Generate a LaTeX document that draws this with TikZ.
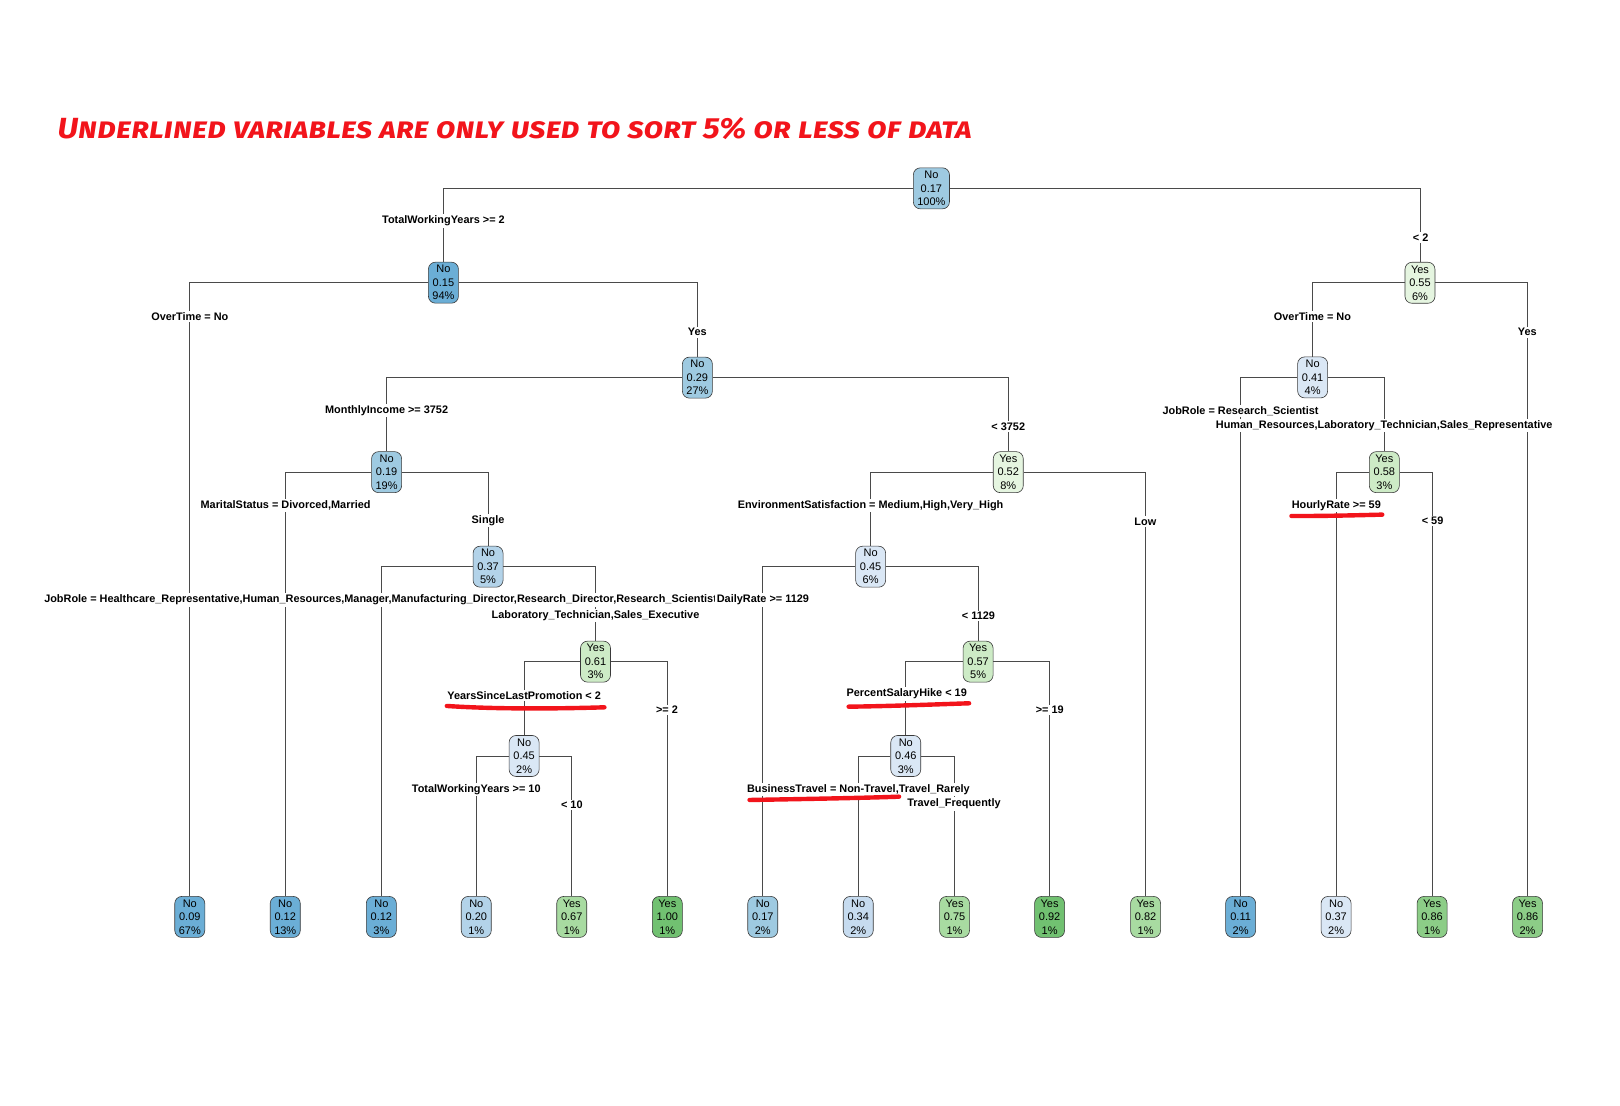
\documentclass[tikz,border=0pt]{standalone}
\usepackage{fontspec}
\setmainfont{Liberation Sans}
\newfontfamily\markerfont{Fira Sans}[Letters=SmallCaps]
\usepackage{tikz}
\usetikzlibrary{calc}
\usepackage{xcolor}

\definecolor{boxline}{HTML}{3A3A3A}
\definecolor{edgegray}{HTML}{4A4A4A}
\definecolor{markred}{HTML}{F2141B}
\definecolor{bluea}{HTML}{6BAED6}
\definecolor{blueb}{HTML}{83BBDD}
\definecolor{bluec}{HTML}{9ECAE1}
\definecolor{blued}{HTML}{B3D3E9}
\definecolor{bluee}{HTML}{C6DBEF}
\definecolor{bluef}{HTML}{DAE7F5}
\definecolor{greena}{HTML}{E5F5E0}
\definecolor{greenb}{HTML}{CDEBC6}
\definecolor{greenc}{HTML}{A8DBA1}
\definecolor{greend}{HTML}{8CCD87}
\definecolor{greene}{HTML}{71C171}

\tikzset{
  split/.style={draw=boxline, line width=0.6pt, rounded corners=7pt, align=center,
    font=\fontsize{11}{13.5}\selectfont, inner xsep=4pt, inner ysep=2pt,
    minimum height=41pt, minimum width=30pt},
  edge/.style={draw=edgegray, line width=0.7pt},
  cond/.style={fill=white, inner sep=1.5pt, font=\fontsize{10.9}{12}\selectfont\bfseries},
  brush/.style={draw=markred, line width=4.4pt, line cap=round},
}

\begin{document}
\begin{tikzpicture}[x=1.0332pt, y=-1.0332pt]
  % Page
  \fill[white] (0,0) rectangle (1568,1070.5);
  \useasboundingbox (0,0) rectangle (1568,1070.5);

  % Title
  \node[anchor=south west, inner sep=0, text=markred] (title) at (55.6,135.5)
    {\resizebox{914pt}{21pt}{\markerfont\bfseries\itshape Underlined variables are only used to sort 5\% or less of data}};

  % Split nodes
  \node[split, fill=bluec]  (n1)  at (901.5,182.3) {No\\0.17\\100\%};
  \node[split, fill=bluea]  (n2)  at (429.2,273.6) {No\\0.15\\94\%};
  \node[split, fill=greena] (n3)  at (1374.4,273.7) {Yes\\0.55\\6\%};
  \node[split, fill=bluec]  (n5)  at (675,365.5) {No\\0.29\\27\%};
  \node[split, fill=bluef]  (n6)  at (1270.5,365.3) {No\\0.41\\4\%};
  \node[split, fill=bluec]  (n10) at (374.2,457) {No\\0.19\\19\%};
  \node[split, fill=greena] (n11) at (975.9,457) {Yes\\0.52\\8\%};
  \node[split, fill=greenb] (n13) at (1339.9,457) {Yes\\0.58\\3\%};
  \node[split, fill=blued]  (n21) at (472.4,548.5) {No\\0.37\\5\%};
  \node[split, fill=bluef]  (n22) at (842.7,548.5) {No\\0.45\\6\%};
  \node[split, fill=greenb] (n43) at (576.4,640.4) {Yes\\0.61\\3\%};
  \node[split, fill=greenb] (n45) at (946.7,640.4) {Yes\\0.57\\5\%};
  \node[split, fill=bluef]  (n86) at (507.3,731.7) {No\\0.45\\2\%};
  \node[split, fill=bluef]  (n90) at (876.7,731.7) {No\\0.46\\3\%};

  % Leaves
  \node[split, fill=bluea]  (n4)   at (183.7,887.5) {No\\0.09\\67\%};
  \node[split, fill=bluea]  (n20)  at (276.1,887.5) {No\\0.12\\13\%};
  \node[split, fill=bluea]  (n42)  at (369.1,887.5) {No\\0.12\\3\%};
  \node[split, fill=blued]  (n172) at (461,887.5) {No\\0.20\\1\%};
  \node[split, fill=greenc] (n173) at (553.4,887.5) {Yes\\0.67\\1\%};
  \node[split, fill=greene] (n87)  at (645.9,887.5) {Yes\\1.00\\1\%};
  \node[split, fill=bluec]  (n44)  at (738.3,887.5) {No\\0.17\\2\%};
  \node[split, fill=bluee]  (n180) at (830.7,887.5) {No\\0.34\\2\%};
  \node[split, fill=greenc] (n181) at (923.9,887.5) {Yes\\0.75\\1\%};
  \node[split, fill=greene] (n91)  at (1015.9,887.5) {Yes\\0.92\\1\%};
  \node[split, fill=greenc] (n23)  at (1108.8,887.5) {Yes\\0.82\\1\%};
  \node[split, fill=bluea]  (n12)  at (1200.8,887.5) {No\\0.11\\2\%};
  \node[split, fill=bluef]  (n26)  at (1293.2,887.5) {No\\0.37\\2\%};
  \node[split, fill=greend] (n27)  at (1386.1,887.5) {Yes\\0.86\\1\%};
  \node[split, fill=greend] (n7)   at (1478.5,887.5) {Yes\\0.86\\2\%};

  % Branches
  \foreach \p/\c in {n1/n2, n1/n3, n2/n4, n2/n5, n5/n10, n5/n11, n10/n20, n10/n21,
                     n21/n42, n21/n43, n43/n86, n43/n87, n86/n172, n86/n173,
                     n11/n22, n11/n23, n22/n44, n22/n45, n45/n90, n45/n91,
                     n90/n180, n90/n181, n3/n6, n3/n7, n6/n12, n6/n13, n13/n26, n13/n27}
    \draw[edge] (\p) -| (\c);

  % Split conditions
  \node[cond] (c2)   at (429.2,214)   {TotalWorkingYears >= 2};
  \node[cond] (c3)   at (1375,229.7)  {< 2};
  \node[cond] (c4)   at (183.7,306.8) {OverTime = No};
  \node[cond] (c5)   at (675,321.6)   {Yes};
  \node[cond] (c10)  at (374.2,397.2) {MonthlyIncome >= 3752};
  \node[cond] (c11)  at (975.9,412.6) {< 3752};
  \node[cond] (c20)  at (276.4,489)   {MaritalStatus = Divorced,Married};
  \node[cond] (c21)  at (472.4,503.6) {Single};
  \node[cond] (c42)  at (368.4,580.7) {JobRole = Healthcare\_Representative,Human\_Resources,Manager,Manufacturing\_Director,Research\_Director,Research\_Scientist};
  \node[cond] (c43)  at (576.4,595.6) {Laboratory\_Technician,Sales\_Executive};
  \node[cond] (c86)  at (507.3,673)   {YearsSinceLastPromotion < 2};
  \node[cond] (c87)  at (645.6,687.2) {>= 2};
  \node[cond] (c172) at (461,764)     {TotalWorkingYears >= 10};
  \node[cond] (c173) at (553.5,779.1) {< 10};
  \node[cond] (c22)  at (842.6,489)   {EnvironmentSatisfaction = Medium,High,Very\_High};
  \node[cond] (c23)  at (1108.6,504.6) {Low};
  \node[cond] (c44)  at (738.4,580.7) {DailyRate >= 1129};
  \node[cond] (c45)  at (947,596.2)   {< 1129};
  \node[cond] (c90)  at (877.6,671.7) {PercentSalaryHike < 19};
  \node[cond] (c91)  at (1016,687.2)  {>= 19};
  \node[cond] (c180) at (830.8,764)   {BusinessTravel = Non-Travel,Travel\_Rarely};
  \node[cond] (c181) at (923.4,778.2) {Travel\_Frequently};
  \node[cond] (c6)   at (1270.3,306.8) {OverTime = No};
  \node[cond] (c7)   at (1478.3,321.6) {Yes};
  \node[cond] (c12)  at (1200.7,397.8) {JobRole = Research\_Scientist};
  \node[cond] (c13)  at (1339.8,411.7) {Human\_Resources,Laboratory\_Technician,Sales\_Representative};
  \node[cond] (c26)  at (1293.4,489)   {HourlyRate >= 59};
  \node[cond] (c27)  at (1386.6,504.3) {< 59};

  % Red underlines
  \draw[brush] (432.5,683.3) .. controls (480,686.5) and (540,686) .. (585,684.6);
  \draw[brush] (821.4,684) .. controls (860,683.5) and (900,682) .. (938,680.7);
  \draw[brush] (725.5,774.3) .. controls (770,773.5) and (830,772.5) .. (870.2,771.1);
  \draw[brush] (1250,499.4) .. controls (1280,499.6) and (1310,498.8) .. (1337.9,498.1);
\end{tikzpicture}
\end{document}
